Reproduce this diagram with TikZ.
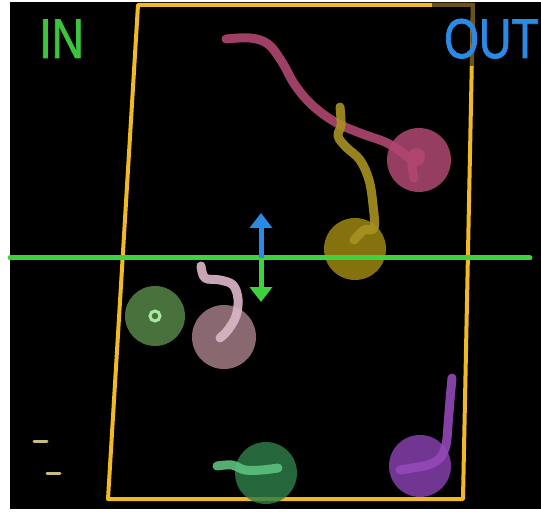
\documentclass[tikz,border=0pt]{standalone}
\usepackage{fontspec}
\setmainfont{Liberation Sans}
\newfontfamily\tagfont[FakeBold=1.5]{Liberation Sans}
\usetikzlibrary{arrows.meta,calc}
\usepackage{xcolor}

\definecolor{lineGreen}{HTML}{3FD23F}
\definecolor{inGreen}{HTML}{3CC43C}
\definecolor{outBlue}{HTML}{2A8AE6}
\definecolor{frameYellow}{HTML}{F2BA22}
\definecolor{frameDim}{HTML}{6A5218}
\definecolor{pinkDisc}{HTML}{B84C78}
\definecolor{pinkTail}{HTML}{B04670}
\definecolor{oliveDisc}{HTML}{A28C12}
\definecolor{oliveTail}{HTML}{A89222}
\definecolor{leafDisc}{HTML}{5A8A4A}
\definecolor{leafRing}{HTML}{A8E8A0}
\definecolor{roseDisc}{HTML}{A88088}
\definecolor{roseTail}{HTML}{DDB8C8}
\definecolor{pineDisc}{HTML}{2E7D48}
\definecolor{pineTail}{HTML}{5CC080}
\definecolor{plumDisc}{HTML}{8A42B2}
\definecolor{plumTail}{HTML}{9448B8}
\definecolor{dashTan}{HTML}{C8C07A}

\begin{document}
\begin{tikzpicture}[x=1pt, y=-1pt,
		disc/.style={circle, inner sep=0pt, minimum size=#1, fill opacity=0.82},
		tail/.style={line width=9pt, line cap=round, line join=round, opacity=0.9},
		tag/.style={font=\tagfont\fontsize{56}{56}\selectfont, inner sep=0pt, anchor=base west, xscale=0.8}]

		% === figure bounds ===
		\def\xmin{10}	\def\xmax{541}
		\def\ymin{2}	\def\ymax{509}
		\def\yline{258}

		% === Background ===
		\useasboundingbox (0,0) rectangle (541,513);
		\fill[white] (0,0) rectangle (541,513);
		\fill[black] (\xmin,\ymin) rectangle (\xmax,\ymax);

		% === Frame ===
		\draw[frameYellow, line width=4pt, line join=round]
			(138,5) -- (473,5) -- (463,499) -- (108,499) -- cycle;
		\draw[frameDim, line width=4pt] (432,5) -- (473,5) -- (472,66);

		% === Labels ===
		\node[tag, text=inGreen] (in) at (39,58) {IN};
		\node[tag, text=outBlue] (out) at (444,58) {OUT};

		% === Discs ===
		\node[disc=64pt, fill=pinkDisc] (pink) at (419,160) {};
		\node[disc=62pt, fill=oliveDisc] (olive) at (355,249) {};
		\node[disc=60pt, fill=leafDisc] (leaf) at (155,316) {};
		\node[disc=64pt, fill=roseDisc] (rose) at (224,337) {};
		\node[disc=62pt, fill=pineDisc] (pine) at (266,473) {};
		\node[disc=62pt, fill=plumDisc] (plum) at (420,466) {};
		\draw[leafRing, line width=3pt] (leaf.center) circle (5pt);

		% === Tails ===
		\draw[tail, pinkTail] plot[smooth, tension=0.6] coordinates {(226,39) (250,38) (268,44)
			(282,62) (295,85) (312,105) (335,122) (360,133) (385,142) (400,151) (411,159)
			(419,161) (420,154) (413,154) (412,166) (414,178)};
		\draw[tail, oliveTail] plot[smooth, tension=0.6] coordinates {(340,107) (341,125)
			(338,136) (346,147) (360,160) (369,180) (373,205) (374,228) (364,230) (354,240)};
		\draw[tail, roseTail] plot[smooth, tension=0.6] coordinates {(201,266) (205,278)
			(220,280) (233,285) (238,299) (236,316) (228,330) (220,338)};
		\draw[tail, pineTail] plot[smooth, tension=0.6] coordinates {(217,466) (232,465)
			(245,470) (262,470) (278,468)};
		\draw[tail, plumTail] plot[smooth, tension=0.6] coordinates {(452,378) (450,400)
			(448,425) (446,445) (440,458) (428,465) (412,468) (400,470)};

		% === Middle line and double arrow ===
		\draw[lineGreen, line width=5pt, line cap=round] (\xmin,\yline) -- (530,\yline);
		\coordinate (mid) at (261,\yline);
		\coordinate (uptip) at (261,213);
		\coordinate (downtip) at (261,302);
		\draw[outBlue, line width=5pt, -{Triangle[width=22pt,length=15pt]}] (mid) -- (uptip);
		\draw[lineGreen, line width=5pt, -{Triangle[width=22pt,length=15pt]}] (mid) -- (downtip);

		% === Small dashes ===
		\foreach \a/\b in {34/441, 47/473} {
			\draw[dashTan, line width=3pt, line cap=round] (\a,\b) -- ++(13,0);	% dash
		}
	\end{tikzpicture}
\end{document}
